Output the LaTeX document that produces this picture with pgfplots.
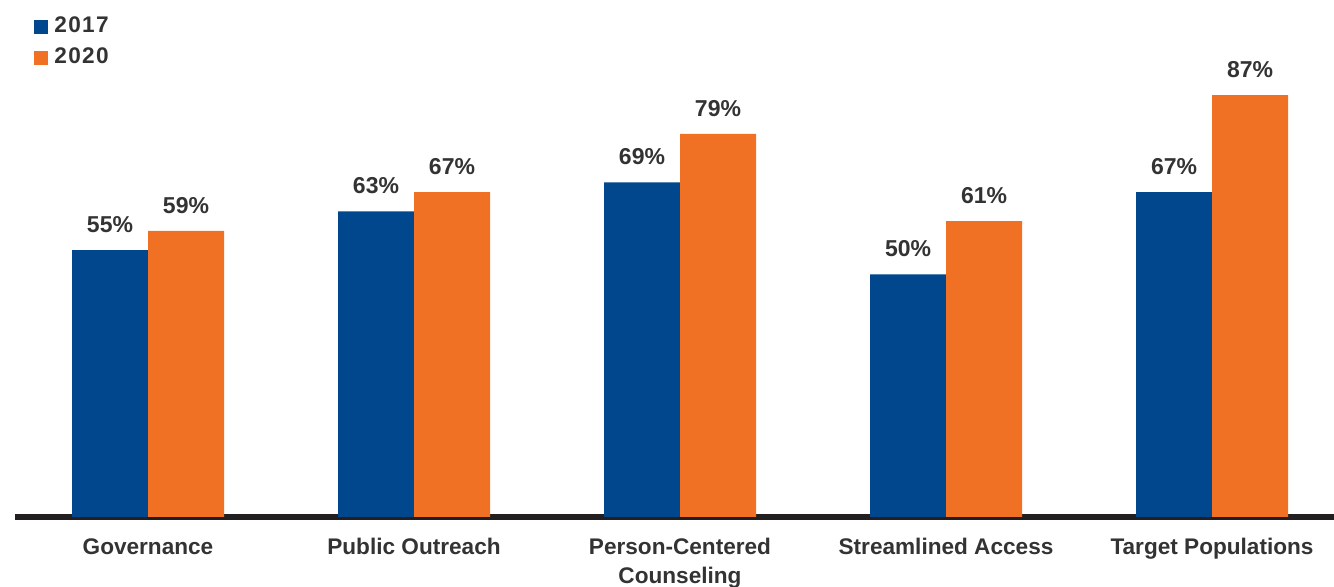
\documentclass[border=0pt]{standalone}
\usepackage{fontspec}
\setmainfont{Liberation Sans}
\usepackage{pgfplots}
\pgfplotsset{compat=1.18}
\definecolor{bblue}{HTML}{00478D}
\definecolor{borange}{HTML}{F07124}
\definecolor{txt}{HTML}{333333}
\definecolor{base}{HTML}{231F20}
\begin{document}
\begin{tikzpicture}
\path[use as bounding box] (-7.5pt,-35pt) rectangle (659.5pt,258.5pt);
\begin{axis}[
  scale only axis,
  width=659.5pt, height=242.5pt,
  xmin=-0.5, xmax=4.4586,
  ymin=0, ymax=100,
  axis x line=bottom,
  axis y line=none,
  x axis line style={-, line width=3pt, color=base},
  ybar=0pt, bar width=38pt,
  xtick={0,1,2,3,4},
  xticklabels={Governance, Public Outreach, {Person-Centered\\Counseling}, Streamlined Access, Target Populations},
  major tick length=0pt,
  xticklabel style={font=\bfseries\fontsize{11.3}{14.5}\selectfont, text=txt, align=center, anchor=north, inner sep=0pt, yshift=-10.5pt},
  /pgf/number format/assume math mode=true,
  nodes near coords={\pgfmathprintnumber{\pgfplotspointmeta}\%},
  nodes near coords style={font=\bfseries\fontsize{11.5}{13}\selectfont, text=txt, anchor=base, inner sep=0pt, yshift=8.75pt},
  legend style={at={(rel axis cs:0.0144,1.033)}, anchor=north west, draw=none, fill=none, inner sep=0pt,
    font=\bfseries\fontsize{11.3}{13}\selectfont\addfontfeatures{LetterSpace=6}, text=txt,
    nodes={inner sep=0pt}, row sep=6.3pt, column sep=3pt},
  legend cell align=left,
  legend image code/.code={\fill[#1] (0pt,-4pt) rectangle (7pt,3pt);},
]
\addplot[fill=bblue, draw=none] coordinates {(0,55) (1,63) (2,69) (3,50) (4,67)};
\addplot[fill=borange, draw=none] coordinates {(0,59) (1,67) (2,79) (3,61) (4,87)};
\legend{2017, 2020}
\end{axis}
\end{tikzpicture}
\end{document}
